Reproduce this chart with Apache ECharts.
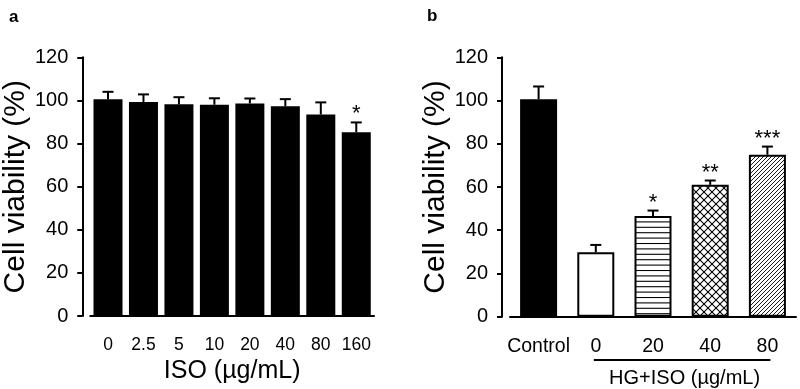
<!DOCTYPE html>
<html>
<head>
<meta charset="utf-8">
<script src="https://cdn.jsdelivr.net/npm/echarts@6/dist/echarts.min.js"></script>
<style>
  html, body { margin: 0; padding: 0; background: #fff; }
  #chart { width: 800px; height: 389px; }
</style>
</head>
<body>
<div id="chart"></div>
<script>
  // panel a: ISO alone
  var isoDoses = ['0', '2.5', '5', '10', '20', '40', '80', '160'];
  var isoMean = [100.5, 99.3, 98.2, 98, 98.6, 97.3, 93.5, 85.3];
  var isoErr = [3.5, 3.5, 3.3, 3, 2.3, 3.3, 5.6, 4.5];
  var isoStars = ['', '', '', '', '', '', '', '*'];

  // panel b: HG + ISO
  var hgGroups = ['Control', '0', '20', '40', '80'];
  var hgMean = [100.6, 29.8, 46.6, 61, 74.9];
  var hgErr = [5.9, 3.4, 2.5, 2, 3.8];
  var hgStars = ['', '', '*', '**', '***'];

  var yTicks = [0, 20, 40, 60, 80, 100, 120];

  var FONT = 'Liberation Sans, Arial, sans-serif';

  // hatch fills drawn on small canvases
  function makePattern(w, h, draw) {
    var c = document.createElement('canvas');
    c.width = w; c.height = h;
    var ctx = c.getContext('2d');
    ctx.fillStyle = '#fff';
    ctx.fillRect(0, 0, w, h);
    ctx.strokeStyle = '#000';
    ctx.lineWidth = 1.1;
    draw(ctx, w, h);
    return { image: c, repeat: 'repeat' };
  }

  var horizLines = makePattern(10, 27, function (ctx, w, h) {
    for (var i = 0; i < 5; i++) {
      var y = i * 5.4 + 0.5;
      ctx.beginPath(); ctx.moveTo(0, y); ctx.lineTo(w, y); ctx.stroke();
    }
  });
  var crossHatch = makePattern(8, 8, function (ctx, w, h) {
    for (var k = -1; k <= 1; k++) {
      ctx.beginPath(); ctx.moveTo(k * w, h); ctx.lineTo(k * w + w, 0); ctx.stroke();
      ctx.beginPath(); ctx.moveTo(k * w, 0); ctx.lineTo(k * w + w, h); ctx.stroke();
    }
  });
  var diagLines = makePattern(4, 4, function (ctx, w, h) {
    ctx.lineWidth = 0.9;
    for (var k = -1; k <= 1; k++) {
      ctx.beginPath(); ctx.moveTo(k * w, h); ctx.lineTo(k * w + w, 0); ctx.stroke();
    }
  });
  var hgFills = ['#000', '#fff', horizLines, crossHatch, diagLines];

  function errorItem(params, api) {
    var x = api.value(0), v = api.value(1), e = api.value(2);
    var star = api.value(3);
    var top = api.coord([x, v]);
    var hi = api.coord([x, v + e]);
    var st = { stroke: '#000', lineWidth: 2 };
    var kids = [
      { type: 'line', shape: { x1: top[0], y1: top[1], x2: hi[0], y2: hi[1] }, style: st },
      { type: 'line', shape: { x1: hi[0] - 5.5, y1: hi[1], x2: hi[0] + 5.5, y2: hi[1] }, style: st }
    ];
    if (star) {
      kids.push({
        type: 'text',
        style: {
          x: hi[0], y: hi[1] + 3, text: star, fill: '#000',
          font: '22px ' + FONT, align: 'center', verticalAlign: 'bottom'
        }
      });
    }
    return { type: 'group', children: kids };
  }

  function errData(mean, err, stars) {
    return mean.map(function (m, i) { return [i, m, err[i], stars[i]]; });
  }

  function xAx(grid, cats, labelSize) {
    return {
      gridIndex: grid, type: 'category', data: cats, offset: 8,
      axisLine: { lineStyle: { color: '#000', width: 2 } },
      axisTick: { alignWithLabel: true, length: 6, lineStyle: { color: '#000', width: 2 } },
      axisLabel: { color: '#000', fontSize: labelSize, fontFamily: FONT, margin: 12, interval: 0 }
    };
  }

  function yAx(grid) {
    return {
      gridIndex: grid, type: 'value', min: yTicks[0], max: yTicks[yTicks.length - 1], interval: 20,
      offset: 8,
      name: 'Cell viability (%)', nameLocation: 'middle', nameGap: 50,
      nameTextStyle: { color: '#000', fontSize: 30, fontFamily: FONT },
      axisLine: { show: true, lineStyle: { color: '#000', width: 2 } },
      axisTick: { show: true, length: 5, lineStyle: { color: '#000', width: 2 } },
      splitLine: { show: false },
      axisLabel: { color: '#000', fontSize: 20, fontFamily: FONT, margin: 14 }
    };
  }

  var chart = echarts.init(document.getElementById('chart'));

  var xa = xAx(0, isoDoses, 17.5);
  xa.name = 'ISO (µg/mL)';
  xa.nameLocation = 'middle';
  xa.nameGap = 33;
  xa.nameTextStyle = { color: '#000', fontSize: 25, fontFamily: FONT };

  chart.setOption({
    animation: false,
    backgroundColor: '#fff',
    grid: [
      { left: 88, right: 426, top: 57.3, bottom: 72.3 },
      { left: 510, right: 4, top: 57.3, bottom: 72.3 }
    ],
    xAxis: [xa, xAx(1, hgGroups, 19.5)],
    yAxis: [yAx(0), yAx(1)],
    series: [
      {
        type: 'bar', xAxisIndex: 0, yAxisIndex: 0, data: isoMean, barWidth: 29,
        itemStyle: { color: '#000' }, z: 2
      },
      {
        type: 'custom', xAxisIndex: 0, yAxisIndex: 0, renderItem: errorItem,
        data: errData(isoMean, isoErr, isoStars), encode: { x: 0, y: 1 }, z: 3
      },
      {
        type: 'bar', xAxisIndex: 1, yAxisIndex: 1, barWidth: 37,
        data: hgMean.map(function (v, i) {
          return { value: v, itemStyle: { color: hgFills[i] } };
        }),
        itemStyle: { borderColor: '#000', borderWidth: 2 }, z: 2
      },
      {
        type: 'custom', xAxisIndex: 1, yAxisIndex: 1, renderItem: errorItem,
        data: errData(hgMean, hgErr, hgStars), encode: { x: 0, y: 1 }, z: 3
      }
    ]
  });

  // panel letters and the HG+ISO group bracket
  var x0 = chart.convertToPixel({ xAxisIndex: 1 }, hgGroups[1]);
  var x4 = chart.convertToPixel({ xAxisIndex: 1 }, hgGroups[4]);
  chart.setOption({
    graphic: [
      { type: 'text', left: 9, top: 9, style: { text: 'a', font: 'bold 17px ' + FONT, fill: '#000' } },
      { type: 'text', left: 427, top: 8, style: { text: 'b', font: 'bold 17px ' + FONT, fill: '#000' } },
      {
        type: 'line', shape: { x1: x0 - 2, y1: 360, x2: x4 + 3, y2: 360 },
        style: { stroke: '#000', lineWidth: 2 }
      },
      {
        type: 'text', x: (x0 + x4) / 2 + 3, y: 378,
        style: { text: 'HG+ISO (µg/mL)', font: '20px ' + FONT, fill: '#000', align: 'center', verticalAlign: 'middle' }
      }
    ]
  });
</script>
</body>
</html>
